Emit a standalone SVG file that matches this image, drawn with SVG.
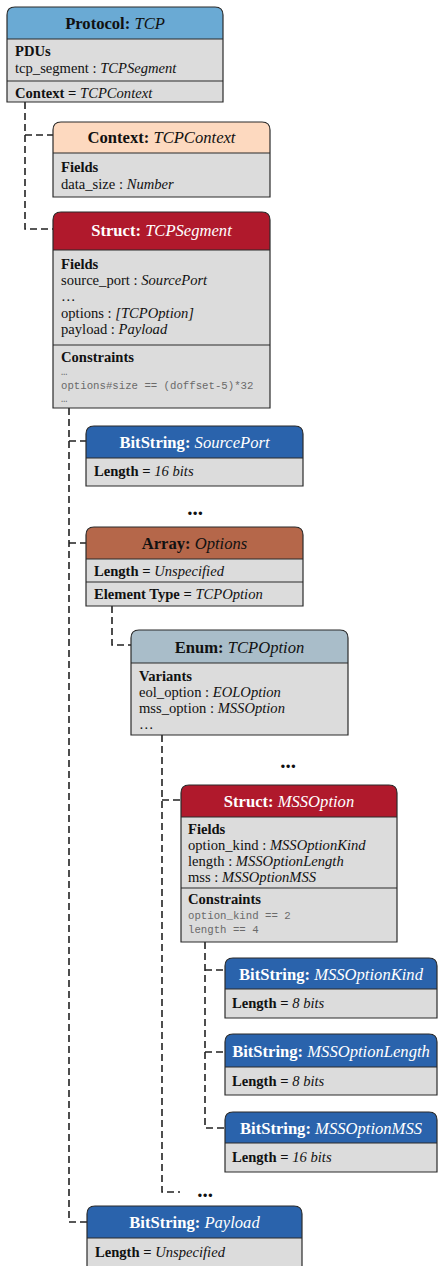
<svg xmlns="http://www.w3.org/2000/svg" width="438" height="1266" viewBox="0 0 438 1266">
<style>
.bg{fill:#ffffff}
.body{fill:#dcdcdc}
.ol{fill:none;stroke:#2b2b2b;stroke-width:1.2}
.dv{stroke:#2b2b2b;stroke-width:1.2}
.t{font-family:"Liberation Serif","Times New Roman",serif;font-size:16.6px;text-anchor:middle;font-weight:bold}
.tw{fill:#ffffff}
.tb{fill:#111111}
.ti{font-style:italic;font-weight:normal}
.b{font-family:"Liberation Serif","Times New Roman",serif;font-size:14.6px;fill:#111111}
.bb{font-weight:bold}
.i{font-style:italic}
.m{font-family:"Liberation Mono","Courier New",monospace;font-size:10.7px;fill:#6a6a6a}
.cn{fill:none;stroke:#222222;stroke-width:1.6;stroke-dasharray:7 4}
.dots{font-family:"Liberation Serif","Times New Roman",serif;font-size:21px;font-weight:bold;fill:#111111;text-anchor:middle}
</style>
<rect class="bg" x="0" y="0" width="438" height="1266"/>

<g id="connectors">
<path class="cn" d="M25 102 V229 H53"/>
<path class="cn" d="M25 135 H53"/>
<path class="cn" d="M69 408 V1222 H87"/>
<path class="cn" d="M69 441 H86"/>
<path class="cn" d="M69 543 H86"/>
<path class="cn" d="M112 606 V645 H131"/>
<path class="cn" d="M162 735 V1192 H180"/>
<path class="cn" d="M162 800 H181"/>
<path class="cn" d="M205 942 V1128 H225"/>
<path class="cn" d="M205 970 H225"/>
<path class="cn" d="M205 1052 H225"/>
</g>

<g id="node-protocol">
<rect class="body" x="7" y="39" width="216" height="63"/>
<path d="M7 39 V15 Q7 7 15 7 H215 Q223 7 223 15 V39 Z" fill="#6aaad4"/>
<path class="ol" d="M7 102 V15 Q7 7 15 7 H215 Q223 7 223 15 V102 Z"/>
<line class="dv" x1="7" y1="39" x2="223" y2="39"/>
<line class="dv" x1="7" y1="81" x2="223" y2="81"/>
<text class="t tb" x="115" y="29">Protocol: <tspan class="ti">TCP</tspan></text>
<text class="b bb" x="15" y="56">PDUs</text>
<text class="b" x="15" y="73">tcp_segment : <tspan class="i">TCPSegment</tspan></text>
<text class="b" x="15" y="98"><tspan class="bb">Context =</tspan> <tspan class="i">TCPContext</tspan></text>
</g>

<g id="node-context">
<rect class="body" x="53" y="153" width="217" height="44"/>
<path d="M53 153 V130 Q53 122 61 122 H262 Q270 122 270 130 V153 Z" fill="#fdd9bf"/>
<path class="ol" d="M53 197 V130 Q53 122 61 122 H262 Q270 122 270 130 V197 Z"/>
<line class="dv" x1="53" y1="153" x2="270" y2="153"/>
<text class="t tb" x="161.5" y="143">Context: <tspan class="ti">TCPContext</tspan></text>
<text class="b bb" x="61" y="172">Fields</text>
<text class="b" x="61" y="189">data_size : <tspan class="i">Number</tspan></text>
</g>

<g id="node-tcpsegment">
<rect class="body" x="53" y="250" width="217" height="158"/>
<path d="M53 250 V220 Q53 212 61 212 H262 Q270 212 270 220 V250 Z" fill="#b0192c"/>
<path class="ol" d="M53 408 V220 Q53 212 61 212 H262 Q270 212 270 220 V408 Z"/>
<line class="dv" x1="53" y1="250" x2="270" y2="250"/>
<line class="dv" x1="53" y1="345" x2="270" y2="345"/>
<text class="t tw" x="161.5" y="236">Struct: <tspan class="ti">TCPSegment</tspan></text>
<text class="b bb" x="61" y="269">Fields</text>
<text class="b" x="61" y="285">source_port : <tspan class="i">SourcePort</tspan></text>
<text class="b" x="61" y="301">…</text>
<text class="b" x="61" y="318">options : <tspan class="i">[TCPOption]</tspan></text>
<text class="b" x="61" y="334">payload : <tspan class="i">Payload</tspan></text>
<text class="b bb" x="61" y="362">Constraints</text>
<text class="m" x="61" y="375">…</text>
<text class="m" x="61" y="389">options#size == (doffset-5)*32</text>
<text class="m" x="61" y="402">…</text>
</g>

<g id="node-sourceport">
<rect class="body" x="86" y="458" width="217" height="28"/>
<path d="M86 458 V434 Q86 426 94 426 H295 Q303 426 303 434 V458 Z" fill="#2a63ac"/>
<path class="ol" d="M86 486 V434 Q86 426 94 426 H295 Q303 426 303 434 V486 Z"/>
<line class="dv" x1="86" y1="458" x2="303" y2="458"/>
<text class="t tw" x="194.5" y="448">BitString: <tspan class="ti">SourcePort</tspan></text>
<text class="b" x="94" y="476"><tspan class="bb">Length =</tspan> <tspan class="i">16 bits</tspan></text>
</g>

<text class="dots" x="195" y="515">...</text>

<g id="node-options">
<rect class="body" x="86" y="559" width="217" height="47"/>
<path d="M86 559 V535 Q86 527 94 527 H295 Q303 527 303 535 V559 Z" fill="#b5674a"/>
<path class="ol" d="M86 606 V535 Q86 527 94 527 H295 Q303 527 303 535 V606 Z"/>
<line class="dv" x1="86" y1="559" x2="303" y2="559"/>
<line class="dv" x1="86" y1="582" x2="303" y2="582"/>
<text class="t tb" x="194.5" y="549">Array: <tspan class="ti">Options</tspan></text>
<text class="b" x="94" y="576"><tspan class="bb">Length =</tspan> <tspan class="i">Unspecified</tspan></text>
<text class="b" x="94" y="599"><tspan class="bb">Element Type =</tspan> <tspan class="i">TCPOption</tspan></text>
</g>

<g id="node-tcpoption">
<rect class="body" x="131" y="663" width="217" height="72"/>
<path d="M131 663 V638 Q131 630 139 630 H340 Q348 630 348 638 V663 Z" fill="#a9bdc9"/>
<path class="ol" d="M131 735 V638 Q131 630 139 630 H340 Q348 630 348 638 V735 Z"/>
<line class="dv" x1="131" y1="663" x2="348" y2="663"/>
<text class="t tb" x="239.5" y="653">Enum: <tspan class="ti">TCPOption</tspan></text>
<text class="b bb" x="139" y="681">Variants</text>
<text class="b" x="139" y="697">eol_option : <tspan class="i">EOLOption</tspan></text>
<text class="b" x="139" y="713">mss_option : <tspan class="i">MSSOption</tspan></text>
<text class="b" x="139" y="729">…</text>
</g>

<text class="dots" x="288" y="768">...</text>

<g id="node-mssoption">
<rect class="body" x="181" y="817" width="216" height="125"/>
<path d="M181 817 V793 Q181 785 189 785 H389 Q397 785 397 793 V817 Z" fill="#b0192c"/>
<path class="ol" d="M181 942 V793 Q181 785 189 785 H389 Q397 785 397 793 V942 Z"/>
<line class="dv" x1="181" y1="817" x2="397" y2="817"/>
<line class="dv" x1="181" y1="888" x2="397" y2="888"/>
<text class="t tw" x="289" y="807">Struct: <tspan class="ti">MSSOption</tspan></text>
<text class="b bb" x="188" y="834">Fields</text>
<text class="b" x="188" y="850">option_kind : <tspan class="i">MSSOptionKind</tspan></text>
<text class="b" x="188" y="866">length : <tspan class="i">MSSOptionLength</tspan></text>
<text class="b" x="188" y="882">mss : <tspan class="i">MSSOptionMSS</tspan></text>
<text class="b bb" x="188" y="904">Constraints</text>
<text class="m" x="188" y="919">option_kind == 2</text>
<text class="m" x="188" y="933">length == 4</text>
</g>

<g id="node-mssoptionkind">
<rect class="body" x="225" y="989" width="212" height="29"/>
<path d="M225 989 V966 Q225 958 233 958 H429 Q437 958 437 966 V989 Z" fill="#2a63ac"/>
<path class="ol" d="M225 1018 V966 Q225 958 233 958 H429 Q437 958 437 966 V1018 Z"/>
<line class="dv" x1="225" y1="989" x2="437" y2="989"/>
<text class="t tw" x="331" y="980">BitString: <tspan class="ti">MSSOptionKind</tspan></text>
<text class="b" x="232" y="1008"><tspan class="bb">Length =</tspan> <tspan class="i">8 bits</tspan></text>
</g>

<g id="node-mssoptionlength">
<rect class="body" x="225" y="1067" width="212" height="28"/>
<path d="M225 1067 V1042 Q225 1034 233 1034 H429 Q437 1034 437 1042 V1067 Z" fill="#2a63ac"/>
<path class="ol" d="M225 1095 V1042 Q225 1034 233 1034 H429 Q437 1034 437 1042 V1095 Z"/>
<line class="dv" x1="225" y1="1067" x2="437" y2="1067"/>
<text class="t tw" x="331" y="1057">BitString: <tspan class="ti">MSSOptionLength</tspan></text>
<text class="b" x="232" y="1086"><tspan class="bb">Length =</tspan> <tspan class="i">8 bits</tspan></text>
</g>

<g id="node-mssoptionmss">
<rect class="body" x="225" y="1143" width="212" height="29"/>
<path d="M225 1143 V1120 Q225 1112 233 1112 H429 Q437 1112 437 1120 V1143 Z" fill="#2a63ac"/>
<path class="ol" d="M225 1172 V1120 Q225 1112 233 1112 H429 Q437 1112 437 1120 V1172 Z"/>
<line class="dv" x1="225" y1="1143" x2="437" y2="1143"/>
<text class="t tw" x="331" y="1134">BitString: <tspan class="ti">MSSOptionMSS</tspan></text>
<text class="b" x="232" y="1162"><tspan class="bb">Length =</tspan> <tspan class="i">16 bits</tspan></text>
</g>

<text class="dots" x="205" y="1197">...</text>

<g id="node-payload">
<rect class="body" x="87" y="1238" width="215" height="32"/>
<path d="M87 1238 V1214 Q87 1206 95 1206 H294 Q302 1206 302 1214 V1238 Z" fill="#2a63ac"/>
<path class="ol" d="M87 1272 V1214 Q87 1206 95 1206 H294 Q302 1206 302 1214 V1272"/>
<line class="dv" x1="87" y1="1238" x2="302" y2="1238"/>
<text class="t tw" x="194.5" y="1228">BitString: <tspan class="ti">Payload</tspan></text>
<text class="b" x="95" y="1257"><tspan class="bb">Length =</tspan> <tspan class="i">Unspecified</tspan></text>
</g>
</svg>
